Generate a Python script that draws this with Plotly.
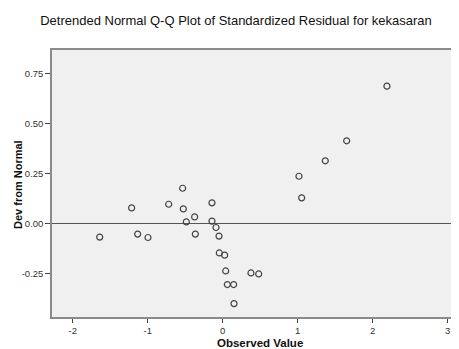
import plotly.graph_objects as go

observed = [-1.640, -1.214, -1.134, -0.996, -0.720, -0.534, -0.525, -0.485, -0.374, -0.365,
            -0.143, -0.143, -0.089, -0.049, -0.045, 0.026, 0.040, 0.062, 0.146, 0.151,
            0.377, 0.480, 1.017, 1.053, 1.368, 1.653, 2.190]
dev = [-0.068, 0.078, -0.053, -0.070, 0.096, 0.176, 0.073, 0.008, 0.033, -0.053,
       0.103, 0.012, -0.020, -0.063, -0.147, -0.158, -0.237, -0.305, -0.305, -0.400,
       -0.247, -0.252, 0.236, 0.128, 0.313, 0.413, 0.686]
x_ticks = [-2, -1, 0, 1, 2, 3]
y_ticks = [-0.25, 0.0, 0.25, 0.50, 0.75]

font = "Liberation Sans, Arial, sans-serif"

# page body has an 8px margin, so the figure starts at (8, 8) in the window
OFF = 8
W, H = 459 - OFF, 349 - OFF
L, R, T, B = 52 - OFF, 0, 50 - OFF, 32
pw, ph = W - L - R, H - T - B

fig = go.Figure()
fig.add_trace(go.Scatter(
    x=observed, y=dev, mode="markers",
    marker=dict(symbol="circle-open", size=6, color="#444444", line=dict(width=1.2)),
    showlegend=False, hoverinfo="x+y",
))

fig.update_layout(
    width=W, height=H,
    margin=dict(l=L, r=R, t=T, b=B),
    paper_bgcolor="white", plot_bgcolor="#F0F0F0",
    title=dict(text="Detrended Normal Q-Q Plot of Standardized Residual for kekasaran",
               x=(236 - OFF) / W, xanchor="center", y=1 - (20 - OFF) / H, yanchor="middle",
               font=dict(family=font, size=13, color="#111111")),
    font=dict(family=font),
    annotations=[
        dict(text="<b>Dev from Normal</b>", xref="paper", yref="paper",
             x=(18 - OFF - L) / pw, y=(H - B - (185 - OFF)) / ph,
             xanchor="center", yanchor="middle",
             textangle=-90, showarrow=False,
             font=dict(family=font, size=11, color="#111111")),
        dict(text="<b>Observed Value</b>", xref="paper", yref="paper",
             x=(260 - OFF - L) / pw, y=(H - B - (342.5 - OFF)) / ph,
             xanchor="center", yanchor="middle",
             showarrow=False,
             font=dict(family=font, size=11.5, color="#111111")),
    ],
)
fig.update_xaxes(
    range=[-2.276, 3.151], tickvals=x_ticks, ticktext=[str(v) for v in x_ticks],
    showgrid=False, zeroline=False, automargin=False,
    showline=True, linecolor="#8a8a8a", linewidth=1.5, mirror=True,
    ticks="outside", ticklen=4, tickcolor="#444444", tickwidth=1,
    tickfont=dict(family=font, size=9.5, color="#333333"),
)
fig.update_yaxes(
    range=[-0.467, 0.8665], tickvals=y_ticks, ticktext=["%.2f" % v for v in y_ticks],
    showgrid=False, zeroline=True, zerolinecolor="#555555", zerolinewidth=1.2,
    automargin=False,
    showline=True, linecolor="#8a8a8a", linewidth=1.5, mirror=False,
    ticks="outside", ticklen=5, tickcolor="#444444", tickwidth=1,
    tickfont=dict(family=font, size=9.5, color="#333333"),
)

fig.write_html("out.html")
